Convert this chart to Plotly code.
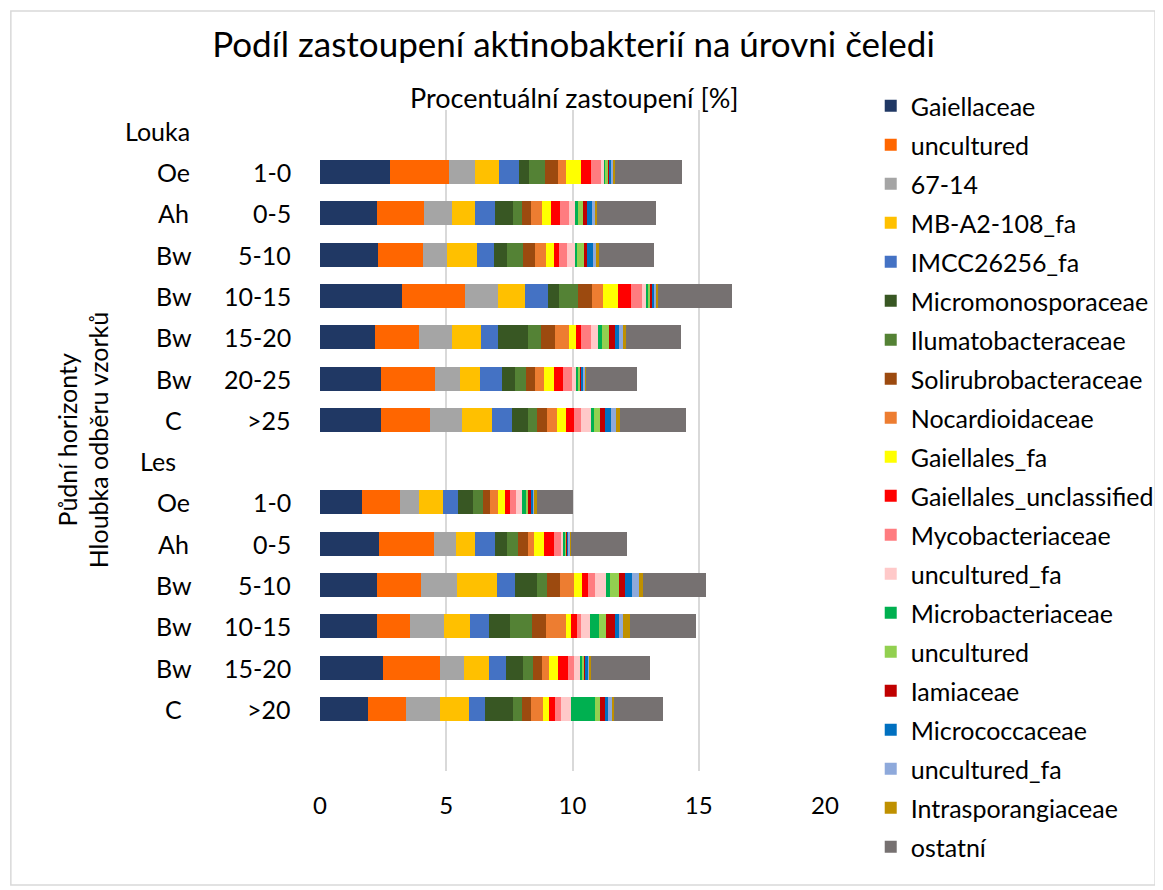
import plotly.graph_objects as go

# ---- data ----
groups = ["Louka", "Les"]
sample_ids = ["L_Oe", "L_Ah", "L_Bw1", "L_Bw2", "L_Bw3", "L_Bw4", "L_C",
              "F_Oe", "F_Ah", "F_Bw1", "F_Bw2", "F_Bw3", "F_C"]
horizons = ["Oe", "Ah", "Bw", "Bw", "Bw", "Bw", "C",
            "Oe", "Ah", "Bw", "Bw", "Bw", "C"]
depths = ["1-0", "0-5", "5-10", "10-15", "15-20", "20-25", ">25",
          "1-0", "0-5", "5-10", "10-15", "15-20", ">20"]
category_order = ["Louka", "L_Oe", "L_Ah", "L_Bw1", "L_Bw2", "L_Bw3", "L_Bw4", "L_C",
                  "Les", "F_Oe", "F_Ah", "F_Bw1", "F_Bw2", "F_Bw3", "F_C", " "]

series_names = ["Gaiellaceae", "uncultured", "67-14", "MB-A2-108_fa", "IMCC26256_fa",
                "Micromonosporaceae", "Ilumatobacteraceae", "Solirubrobacteraceae",
                "Nocardioidaceae", "Gaiellales_fa", "Gaiellales_unclassified",
                "Mycobacteriaceae", "uncultured_fa", "Microbacteriaceae", "uncultured",
                "Iamiaceae", "Micrococcaceae", "uncultured_fa", "Intrasporangiaceae", "ostatní"]

gaiellaceae = [2.79, 2.24, 2.29, 3.25, 2.16, 2.43, 2.43, 1.65, 2.33, 2.24, 2.26, 2.51, 1.90]
uncultured1 = [2.32, 1.88, 1.77, 2.49, 1.77, 2.12, 1.92, 1.52, 2.19, 1.77, 1.31, 2.24, 1.49]
s67_14 = [1.02, 1.11, 0.96, 1.31, 1.31, 0.98, 1.26, 0.76, 0.86, 1.40, 1.34, 0.94, 1.36]
mb_a2_108 = [0.94, 0.92, 1.18, 1.05, 1.13, 0.82, 1.22, 0.94, 0.77, 1.60, 1.05, 1.01, 1.14]
imcc26256 = [0.81, 0.77, 0.71, 0.92, 0.69, 0.84, 0.76, 0.60, 0.79, 0.73, 0.75, 0.67, 0.65]
micromono = [0.41, 0.73, 0.50, 0.43, 1.19, 0.54, 0.65, 0.59, 0.45, 0.84, 0.81, 0.68, 1.11]
ilumato = [0.62, 0.35, 0.63, 0.77, 0.51, 0.41, 0.37, 0.41, 0.47, 0.41, 0.86, 0.37, 0.35]
solirubro = [0.50, 0.34, 0.46, 0.56, 0.55, 0.38, 0.38, 0.25, 0.39, 0.50, 0.59, 0.39, 0.35]
nocardio = [0.34, 0.45, 0.45, 0.43, 0.54, 0.35, 0.39, 0.34, 0.24, 0.58, 0.77, 0.27, 0.47]
gaiellales_fa = [0.58, 0.37, 0.31, 0.60, 0.27, 0.39, 0.37, 0.25, 0.39, 0.29, 0.21, 0.35, 0.26]
gaiellales_unc = [0.42, 0.35, 0.22, 0.52, 0.22, 0.35, 0.30, 0.20, 0.38, 0.26, 0.21, 0.38, 0.22]
mycobact = [0.37, 0.34, 0.31, 0.43, 0.38, 0.37, 0.29, 0.27, 0.27, 0.27, 0.18, 0.25, 0.26]
uncultured_fa1 = [0.13, 0.26, 0.30, 0.16, 0.27, 0.17, 0.39, 0.22, 0.13, 0.42, 0.35, 0.22, 0.37]
microbact = [0.07, 0.09, 0.10, 0.08, 0.18, 0.08, 0.13, 0.17, 0.05, 0.17, 0.35, 0.08, 0.97]
uncultured2 = [0.07, 0.20, 0.27, 0.08, 0.29, 0.05, 0.24, 0.08, 0.05, 0.38, 0.27, 0.08, 0.17]
iamiaceae = [0.08, 0.16, 0.10, 0.07, 0.24, 0.08, 0.20, 0.10, 0.05, 0.21, 0.39, 0.09, 0.20]
micrococc = [0.07, 0.20, 0.25, 0.08, 0.16, 0.07, 0.21, 0.08, 0.05, 0.29, 0.16, 0.07, 0.14]
uncultured_fa2 = [0.07, 0.14, 0.13, 0.08, 0.13, 0.07, 0.22, 0.08, 0.05, 0.29, 0.14, 0.08, 0.16]
intraspor = [0.08, 0.08, 0.09, 0.09, 0.12, 0.05, 0.16, 0.07, 0.05, 0.13, 0.26, 0.07, 0.08]
ostatni = [2.64, 2.34, 2.21, 2.91, 2.20, 1.99, 2.60, 1.43, 2.21, 2.50, 2.64, 2.30, 1.92]

series_values = [gaiellaceae, uncultured1, s67_14, mb_a2_108, imcc26256, micromono,
                 ilumato, solirubro, nocardio, gaiellales_fa, gaiellales_unc, mycobact,
                 uncultured_fa1, microbact, uncultured2, iamiaceae, micrococc,
                 uncultured_fa2, intraspor, ostatni]

colors = ["#203864", "#FF6600", "#A5A5A5", "#FFC000", "#4472C4", "#385723", "#548235",
          "#9C4A0F", "#ED7D31", "#FFFF00", "#FF0000", "#FF7C80", "#FFC9C9", "#00B050",
          "#92D050", "#C00000", "#0070C0", "#8EA9DB", "#BF9000", "#767171"]

FONT = "Lato"
OFF = 8  # page body margin in the browser
W, H = 1163, 890
ML = 320 - OFF
MT = 110 - OFF
MR = W - (828 - OFF)
MB = H - (771 - OFF)
PW, PH = W - ML - MR, H - MT - MB


def px(x):
    return (x - OFF - ML) / PW


def py(y):
    return (H - MB - (y - OFF)) / PH


fig = go.Figure()
for i, (name, vals, col) in enumerate(zip(series_names, series_values, colors)):
    fig.add_trace(go.Bar(
        y=sample_ids, x=vals, name=name, orientation="h",
        marker=dict(color=col, line=dict(width=0)),
        legendgroup=f"g{i}",
        hovertemplate=name + ": %{x}<extra></extra>",
    ))

LBL = 25
annotations = []
for g in groups:
    annotations.append(dict(x=px(157), xref="paper", y=category_order.index(g), yref="y",
                            text=g, showarrow=False, xanchor="center",
                            font=dict(family=FONT, size=LBL, color="#000000")))
for sid, hz, dp in zip(sample_ids, horizons, depths):
    yi = category_order.index(sid)
    annotations.append(dict(x=px(173), xref="paper", y=yi, yref="y", text=hz,
                            showarrow=False, xanchor="center",
                            font=dict(family=FONT, size=LBL, color="#000000")))
    annotations.append(dict(x=px(293), xref="paper", y=yi, yref="y", text=dp,
                            showarrow=False, xanchor="right",
                            font=dict(family=FONT, size=LBL, color="#000000")))
annotations.append(dict(x=px(576), xref="paper", y=py(97), yref="paper",
                        text="Procentuální zastoupení [%]", showarrow=False,
                        xanchor="center", yanchor="middle",
                        font=dict(family=FONT, size=27, color="#000000")))
annotations.append(dict(x=px(65), xref="paper", y=py(440), yref="paper",
                        text="Půdní horizonty", showarrow=False, textangle=-90,
                        xanchor="center", yanchor="middle",
                        font=dict(family=FONT, size=LBL, color="#000000")))
annotations.append(dict(x=px(97), xref="paper", y=py(440), yref="paper",
                        text="Hloubka odběru vzorků", showarrow=False, textangle=-90,
                        xanchor="center", yanchor="middle",
                        font=dict(family=FONT, size=LBL, color="#000000")))

fig.update_layout(
    width=W, height=H,
    barmode="stack", bargap=0.42,
    paper_bgcolor="white", plot_bgcolor="white",
    margin=dict(l=ML, r=MR, t=MT, b=MB),
    title=dict(text="Podíl zastoupení aktinobakterií na úrovni čeledi",
               x=px(575), xref="paper", xanchor="center",
               y=1 - (45 - OFF) / H, yanchor="middle",
               font=dict(family=FONT, size=35, color="#000000")),
    xaxis=dict(range=[0, 20], dtick=5, showgrid=True, gridcolor="#D9D9D9", gridwidth=2,
               zeroline=False, showline=False, ticks="outside", ticklen=13,
               tickcolor="rgba(0,0,0,0)",
               tickfont=dict(family=FONT, size=24, color="#000000")),
    yaxis=dict(categoryorder="array", categoryarray=category_order, type="category",
               range=[15.5, -0.5], showticklabels=False, showgrid=False, zeroline=False,
               showline=False),
    legend=dict(x=px(874), xref="paper", y=1.0, yref="paper", xanchor="left",
                yanchor="top", traceorder="grouped", tracegroupgap=3.5,
                font=dict(family=FONT, size=25, color="#000000"),
                itemwidth=30, bgcolor="rgba(0,0,0,0)"),
    annotations=annotations,
    shapes=[dict(type="rect", xref="paper", yref="paper", x0=px(9), x1=px(1160),
                 y0=py(11), y1=py(885), line=dict(color="#D9D9D9", width=1.5),
                 fillcolor="rgba(0,0,0,0)", layer="below")],
    showlegend=True,
)

try:
    fig.update_layout(legend_maxheight=900)
except Exception:
    pass
fig.update_layout(legend_y=py(83), legend_yanchor="top")

fig.write_html("out.html")
